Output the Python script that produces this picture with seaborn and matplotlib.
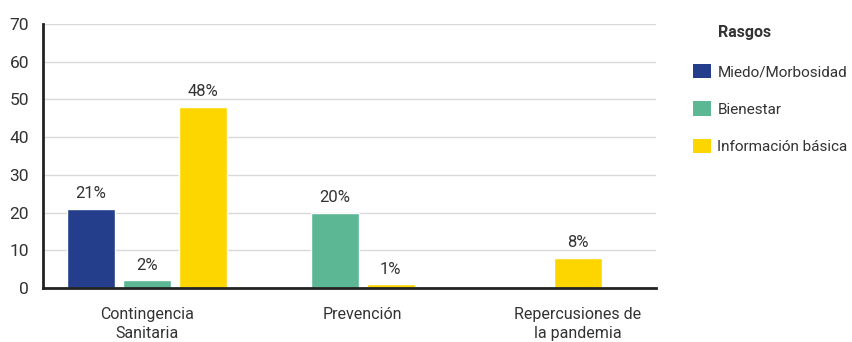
import numpy as np
import pandas as pd
import matplotlib
matplotlib.use("Agg")
import matplotlib.pyplot as plt
from matplotlib.patches import Patch
import seaborn as sns

categories = ["Contingencia\nSanitaria", "Prevención", "Repercusiones de\nla pandemia"]
series = ["Miedo/Morbosidad", "Bienestar", "Información básica"]
miedo = [21, None, None]
bienestar = [2, 20, None]
informacion = [48, 1, 8]
colors = ["#243E8B", "#5CB894", "#FDD600"]

df = pd.DataFrame({"Miedo/Morbosidad": miedo, "Bienestar": bienestar,
                   "Información básica": informacion}, index=categories)

sns.set_theme(style="white")
plt.rcParams["font.family"] = ["Roboto", "DejaVu Sans"]
text_color = "#333333"

fig = plt.figure(figsize=(8.52, 3.42), dpi=100)
ax = fig.add_axes([0.0505, 0.158, 0.7195, 0.772])

bar_w = 0.223
step = 0.26
for i, cat in enumerate(categories):
    present = [s for s in series if pd.notna(df.loc[cat, s])]
    n = len(present)
    for j, s in enumerate(present):
        x = i + (j - (n - 1) / 2) * step
        v = df.loc[cat, s]
        ax.bar(x, v, width=bar_w, color=colors[series.index(s)], zorder=3)
        ax.annotate(f"{v:.0f}%", (x, v), xytext=(0, 5.5), textcoords="offset points",
                    ha="center", va="bottom", fontsize=12, color=text_color)

ax.set_xlim(-0.483, 2.362)
ax.set_ylim(0, 70)
ax.set_yticks(np.arange(0, 71, 10))
ax.set_xticks(range(len(categories)))
ax.set_xticklabels(categories, fontsize=11.5, color=text_color, linespacing=1.3)
ax.tick_params(axis="y", labelsize=12.5, labelcolor=text_color, length=0, pad=10)
ax.tick_params(axis="x", length=0, pad=14)
ax.yaxis.grid(True, color="#d9d9d9", linewidth=1, zorder=0)
ax.set_axisbelow(True)
sns.despine(ax=ax, top=True, right=True)
for side in ["left", "bottom"]:
    ax.spines[side].set_color("#222222")
    ax.spines[side].set_linewidth(2)
    ax.spines[side].set_zorder(4)

handles = [Patch(facecolor=c, edgecolor="none") for c in colors]
fig.text(718 / 852, 1 - 33 / 342, "Rasgos", fontsize=11.5, fontweight="bold",
         color=text_color, va="center", ha="left")
fig.legend(handles, series, loc="upper left", bbox_to_anchor=(693 / 852, 1 - 64 / 342),
           frameon=False, fontsize=11, handlelength=1.15, handleheight=1.05,
           handletextpad=0.45, labelspacing=1.45, borderaxespad=0, borderpad=0,
           labelcolor=text_color)

fig.savefig("out.png", dpi=100)
